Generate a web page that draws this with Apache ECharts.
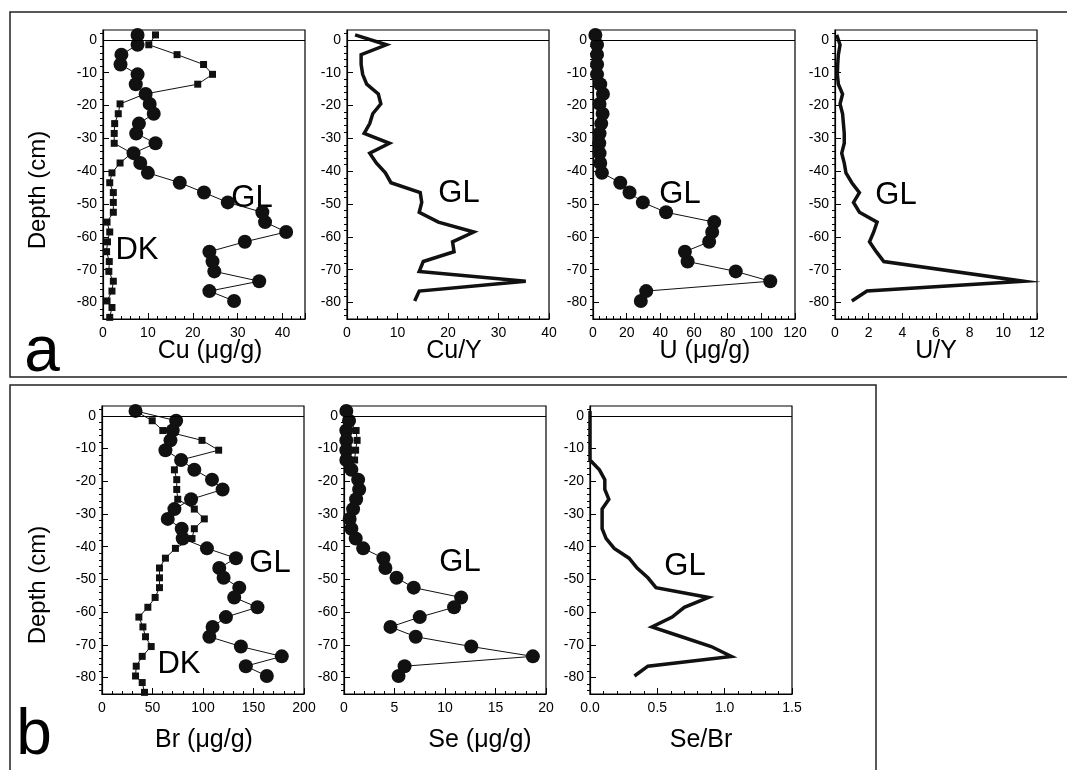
<!DOCTYPE html>
<html><head><meta charset="utf-8">
<script src="https://cdn.jsdelivr.net/npm/echarts@6/dist/echarts.min.js"></script>
<style>html,body{margin:0;padding:0;background:#fff}#c{width:1067px;height:770px}</style>
</head><body><div id="c"></div><script>
// ---- data ----
const depthGL = [1.5, -1.5, -4.5, -7.5, -10.5, -13.5, -16.5, -19.5, -22.5, -25.5, -28.5, -31.5, -34.5, -37.5, -40.5, -43.5, -46.5, -49.5, -52.5, -55.5, -58.5, -61.5, -64.5, -67.5, -70.5, -73.5, -76.5, -79.5];
const depthDK = [1.5, -1.5, -4.5, -7.5, -10.5, -13.5, -16.5, -19.5, -22.5, -25.5, -28.5, -31.5, -34.5, -37.5, -40.5, -43.5, -46.5, -49.5, -52.5, -55.5, -58.5, -61.5, -64.5, -67.5, -70.5, -73.5, -76.5, -79.5, -81.5, -84.5];
const depthSeDK = [1.5, -1.5, -4.5, -7.5, -10.5, -13.5, -16.5];

const cuGL = [7.7, 7.7, 4.1, 3.9, 7.7, 7.3, 9.5, 10.4, 11.3, 8.0, 7.4, 11.7, 6.8, 8.3, 10.0, 17.1, 22.5, 27.8, 35.5, 36.1, 40.8, 31.6, 23.7, 24.4, 24.8, 34.8, 23.7, 29.2];
const cuDK = [11.7, 10.2, 16.5, 22.4, 24.4, 21.1, 9.3, 3.8, 3.4, 2.6, 2.5, 2.5, 6.4, 3.8, 2.0, 1.5, 2.3, 2.3, 2.3, 0.9, 1.5, 1.0, 0.8, 1.4, 1.3, 2.3, 2.0, 0.9, 2.0, 1.5];
const cuY = [1.6, 7.8, 2.8, 2.8, 3.1, 3.9, 6.2, 6.7, 5.1, 4.5, 3.4, 8.4, 4.5, 5.8, 7.6, 8.7, 14.5, 14.8, 14.3, 18.1, 25.1, 20.9, 21.2, 15.1, 14.3, 35.4, 14.3, 13.4];
const uGL = [1.4, 2.4, 2.4, 2.4, 2.4, 4.3, 5.9, 3.9, 5.7, 4.9, 3.9, 3.7, 3.9, 4.3, 5.3, 16.2, 21.7, 29.6, 43.4, 72.0, 70.8, 69.0, 54.6, 56.2, 84.8, 105.3, 31.6, 28.4];
const uY = [0.1, 0.3, 0.2, 0.16, 0.14, 0.2, 0.45, 0.3, 0.45, 0.5, 0.55, 0.55, 0.4, 0.55, 0.65, 1.0, 1.45, 1.1, 1.45, 2.5, 2.3, 2.05, 2.45, 2.9, null, 11.17, 1.9, 1.0];
const brGL = [33.2, 73.4, 70, 67.8, 62.8, 78.3, 91.4, 108.9, 119.4, 88.2, 71.7, 65.1, 78.9, 79.9, 103.9, 132.6, 116.1, 120.4, 135.9, 130.9, 153.9, 122.7, 109.5, 106.3, 137.5, 178, 142.4, 163.2];
const brDK = [33, 49.7, 60.2, 99, 115.5, 78, 71.7, 74, 74, 75, 91.4, 101.3, 91.4, 89.1, 72.7, 62.8, 56.9, 56.9, 56.9, 52.6, 45.4, 36.5, 40.5, 43.1, 48.7, 39.8, 33.9, 33.2, 39.8, 42.1];
const seGL = [0.23, 0.5, 0.23, 0.23, 0.23, 0.23, 0.73, 1.4, 1.5, 1.2, 0.9, 0.56, 0.73, 1.16, 1.9, 3.9, 4.1, 5.2, 6.9, 11.6, 10.9, 7.5, 4.6, 7.1, 12.6, 18.7, 6.0, 5.4];
const seDK = [0.23, 0.5, 1.2, 1.3, 1.15, 1.05, 0.73];
const seBr = [0, 0, 0, 0, 0, 0, 0.07, 0.11, 0.11, 0.14, 0.09, 0.09, 0.09, 0.12, 0.18, 0.29, 0.35, 0.43, 0.49, 0.88, 0.70, 0.61, 0.46, 0.68, 0.9, 1.05, 0.43, 0.33];

const yTickLabels = [0, -10, -20, -30, -40, -50, -60, -70, -80];
const xTitles = ['Cu (μg/g)', 'Cu/Y', 'U (μg/g)', 'U/Y', 'Br (μg/g)', 'Se (μg/g)', 'Se/Br'];

// ---- layout ----
const FONT = 'Liberation Sans, Arial, sans-serif';
const topA = 30, hA = 289, topB = 406, hB = 288;
const panels = [
  {left: 103, top: topA, xmax: 45, xint: 10, title: xTitles[0], tx: 210, ty: 351,
   series: [{d: depthDK, v: cuDK, kind: 'dk'}, {d: depthGL, v: cuGL, kind: 'gl'}]},
  {left: 347, top: topA, xmax: 40, xint: 10, title: xTitles[1], tx: 454, ty: 351,
   series: [{d: depthGL, v: cuY, kind: 'ratio'}]},
  {left: 593, top: topA, xmax: 120, xint: 20, title: xTitles[2], tx: 705, ty: 351,
   series: [{d: depthGL, v: uGL, kind: 'gl'}]},
  {left: 835, top: topA, xmax: 12, xint: 2, title: xTitles[3], tx: 936, ty: 351,
   series: [{d: depthGL, v: uY, kind: 'ratio'}]},
  {left: 102, top: topB, xmax: 200, xint: 50, title: xTitles[4], tx: 204, ty: 740,
   series: [{d: depthDK, v: brDK, kind: 'dk'}, {d: depthGL, v: brGL, kind: 'gl'}]},
  {left: 344, top: topB, xmax: 20, xint: 5, title: xTitles[5], tx: 480, ty: 740,
   series: [{d: depthSeDK, v: seDK, kind: 'dk'}, {d: depthGL, v: seGL, kind: 'gl'}]},
  {left: 590, top: topB, xmax: 1.5, xint: 0.5, title: xTitles[6], tx: 701, ty: 740, fmt: v => v.toFixed(1),
   series: [{d: depthGL, v: seBr, kind: 'ratio'}]}
];

const minorY = [];
for (let v = -84; v <= 2; v += 2) if (v % 10 !== 0) minorY.push(v);

const grid = [], xAxis = [], yAxis = [], series = [];
panels.forEach((p, i) => {
  const h = p.top === topA ? hA : hB;
  grid.push({left: p.left, top: p.top, width: 202, height: h, show: true, borderColor: '#000', borderWidth: 1.2, backgroundColor: 'transparent'});
  xAxis.push({
    type: 'value', gridIndex: i, min: 0, max: p.xmax, interval: p.xint,
    axisLine: {show: true, onZero: false, lineStyle: {color: '#000', width: 1.2}},
    axisTick: {show: true, inside: true, length: 6, lineStyle: {color: '#000'}},
    minorTick: {show: true, splitNumber: 5, length: 3, lineStyle: {color: '#000'}},
    axisLabel: {color: '#000', fontFamily: FONT, fontSize: 14, margin: 7, showMaxLabel: p.xmax % p.xint === 0, formatter: p.fmt},
    splitLine: {show: false}, minorSplitLine: {show: false}
  });
  yAxis.push({
    type: 'value', gridIndex: i, min: -85, max: 3,
    axisLine: {show: true, onZero: false, lineStyle: {color: '#000', width: 1.2}},
    axisTick: {show: true, inside: true, length: 6, customValues: yTickLabels, lineStyle: {color: '#000'}},
    axisLabel: {color: '#000', fontFamily: FONT, fontSize: 14, margin: 6, customValues: yTickLabels},
    splitLine: {show: false}
  });
  yAxis.push({
    type: 'value', gridIndex: i, min: -85, max: 3,
    axisLine: {show: false},
    axisTick: {show: true, inside: true, length: 3, customValues: minorY, lineStyle: {color: '#000'}},
    axisLabel: {show: false},
    splitLine: {show: false}
  });
  const yIdx = i * 2;
  p.series.forEach((s, k) => {
    const data = s.d.map((d, j) => [s.v[j], d]);
    const base = {
      type: 'line', xAxisIndex: i, yAxisIndex: yIdx, data, animation: false,
      connectNulls: true, z: s.kind === 'gl' ? 4 : 3
    };
    if (s.kind === 'gl') Object.assign(base, {symbol: 'circle', symbolSize: 14, itemStyle: {color: '#111'}, lineStyle: {color: '#111', width: 1}});
    if (s.kind === 'dk') Object.assign(base, {symbol: 'rect', symbolSize: 7, itemStyle: {color: '#111'}, lineStyle: {color: '#111', width: 1}});
    if (s.kind === 'ratio') Object.assign(base, {symbol: 'none', lineStyle: {color: '#111', width: 3.5, join: 'miter'}});
    if (k === 0) base.markLine = {silent: true, symbol: ['none', 'none'], label: {show: false},
      lineStyle: {color: '#000', width: 1.2, type: 'solid'}, data: [{yAxis: 0}]};
    series.push(base);
  });
});

const txt = (x, y, t, size, extra) => Object.assign({type: 'text', x, y, style: {text: t, fill: '#000', font: size + 'px ' + FONT, textAlign: 'center', textVerticalAlign: 'middle'}}, extra || {});
const graphic = [
  {type: 'rect', shape: {x: 10, y: 12, width: 1070, height: 365}, style: {fill: 'none', stroke: '#222', lineWidth: 1.5}, z: -1},
  {type: 'rect', shape: {x: 10, y: 385, width: 866, height: 400}, style: {fill: 'none', stroke: '#222', lineWidth: 1.5}, z: -1},
  txt(42, 353, 'a', 64), txt(34, 736, 'b', 64),
  txt(38, 190, 'Depth (cm)', 24, {rotation: Math.PI / 2}),
  txt(38, 585, 'Depth (cm)', 24, {rotation: Math.PI / 2}),
  txt(252, 198, 'GL', 31), txt(137, 250, 'DK', 31),
  txt(459, 193, 'GL', 31), txt(680, 194, 'GL', 31), txt(896, 195, 'GL', 31),
  txt(270, 563, 'GL', 31), txt(179, 664, 'DK', 31), txt(460, 562, 'GL', 31), txt(685, 566, 'GL', 31)
];
panels.forEach(p => graphic.push(txt(p.tx, p.ty, p.title, 25)));

const chart = echarts.init(document.getElementById('c'), null, {renderer: 'canvas'});
chart.setOption({animation: false, backgroundColor: '#fff', grid, xAxis, yAxis, series, graphic});
</script></body></html>
